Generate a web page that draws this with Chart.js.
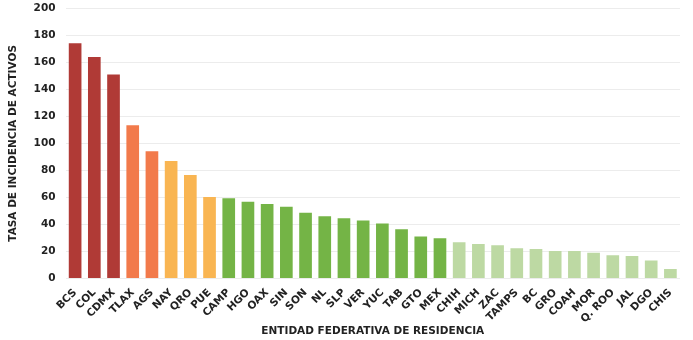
<!DOCTYPE html>
<html>
<head>
<meta charset="utf-8">
<script src="https://cdn.jsdelivr.net/npm/chart.js@4"></script>
<style>
    html, body { margin: 0; padding: 0; background: #fff; overflow: hidden; }
    .marco { width: 693px; height: 340px; overflow: hidden; position: relative; }
    #tasa { position: absolute; left: 0; top: -8px; }
</style>
</head>
<body>
<div class="marco">
    <canvas id="tasa" width="693" height="348"></canvas>
</div>
<script>
const estados = ['BCS', 'COL', 'CDMX', 'TLAX', 'AGS', 'NAY', 'QRO', 'PUE', 'CAMP', 'HGO', 'OAX', 'SIN',
    'SON', 'NL', 'SLP', 'VER', 'YUC', 'TAB', 'GTO', 'MEX', 'CHIH', 'MICH', 'ZAC', 'TAMPS', 'BC', 'GRO',
    'COAH', 'MOR', 'Q. ROO', 'JAL', 'DGO', 'CHIS'];
const tasaActivos = [174.2, 164, 151, 113.5, 94.2, 87, 76.6, 60.2, 59.3, 56.7, 55.2, 53,
    48.6, 46.1, 44.6, 42.9, 40.7, 36.4, 31, 29.7, 26.8, 25.5, 24.5, 22.3, 21.8, 20.3,
    20.3, 19.1, 17.1, 16.6, 13.2, 6.9];
const yTicks = [0, 20, 40, 60, 80, 100, 120, 140, 160, 180, 200];

// color por grupo: [color, cantidad de estados]
const grupos = [
    ['#b03a36', 3],
    ['#f27a4b', 2],
    ['#f9b552', 3],
    ['#74b446', 12],
    ['#bdd9a3', 12]
];
const colores = [];
grupos.forEach(g => { for (let i = 0; i < g[1]; i++) colores.push(g[0]); });

const fuente = { family: "'DejaVu Sans', sans-serif", weight: 'bold', size: 10.5 };

new Chart(document.getElementById('tasa'), {
    type: 'bar',
    data: {
        labels: estados,
        datasets: [{
            label: 'Tasa de incidencia',
            data: tasaActivos,
            backgroundColor: colores,
            borderWidth: 0,
            barPercentage: 0.66,
            categoryPercentage: 1
        }]
    },
    options: {
        responsive: false,
        animation: false,
        layout: { padding: { top: 0, right: 13, left: 7, bottom: 0 } },
        plugins: {
            legend: { display: false },
            tooltip: { enabled: false }
        },
        scales: {
            x: {
                grid: { display: false },
                border: { display: false },
                ticks: {
                    color: '#222',
                    font: fuente,
                    minRotation: 45,
                    maxRotation: 45,
                    autoSkip: false,
                    padding: 0
                },
                title: {
                    display: true,
                    text: 'ENTIDAD FEDERATIVA DE RESIDENCIA',
                    color: '#222',
                    font: fuente,
                    padding: { top: 0, bottom: 2 }
                }
            },
            y: {
                min: 0,
                max: 200,
                afterBuildTicks: axis => { axis.ticks = yTicks.map(v => ({ value: v })); },
                grid: { color: '#ececec', lineWidth: 1, drawTicks: false },
                border: { display: false },
                ticks: {
                    color: '#222',
                    font: fuente,
                    padding: 10
                },
                title: {
                    display: true,
                    text: 'TASA DE INCIDENCIA DE ACTIVOS',
                    color: '#222',
                    font: fuente,
                    padding: { top: 0, bottom: 4 }
                }
            }
        }
    }
});
</script>
</body>
</html>
